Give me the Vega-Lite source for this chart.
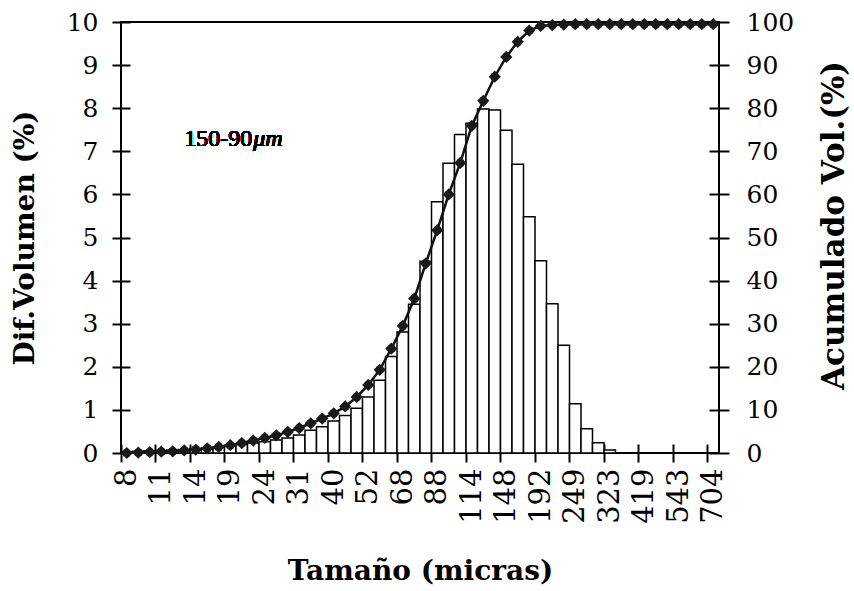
{
  "$schema": "https://vega.github.io/schema/vega-lite/v6.json",
  "width": 598,
  "height": 431,
  "autosize": {"type": "none"},
  "padding": {"left": 121, "top": 22, "right": 135, "bottom": 138},
  "background": "white",
  "config": {
    "font": "DejaVu Serif",
    "view": {"stroke": "black", "strokeWidth": 2},
    "axis": {
      "labelFont": "DejaVu Serif",
      "labelFontSize": 25,
      "labelColor": "black",
      "titleFont": "DejaVu Serif",
      "titleFontSize": 28,
      "titleFontWeight": "bold",
      "titleColor": "black",
      "domain": false,
      "tickColor": "black",
      "tickWidth": 2,
      "grid": false,
      "zindex": 1
    }
  },
  "data": {
    "values": [
      {"size": "8", "dif": 0.03, "acum": 0},
      {"size": "9", "dif": 0.04, "acum": 0.1},
      {"size": "10", "dif": 0.05, "acum": 0.2},
      {"size": "11", "dif": 0.06, "acum": 0.3},
      {"size": "12", "dif": 0.07, "acum": 0.4},
      {"size": "13", "dif": 0.08, "acum": 0.6},
      {"size": "14", "dif": 0.1, "acum": 0.8},
      {"size": "16", "dif": 0.12, "acum": 1.1},
      {"size": "17", "dif": 0.14, "acum": 1.4},
      {"size": "19", "dif": 0.17, "acum": 1.8},
      {"size": "21", "dif": 0.2, "acum": 2.3},
      {"size": "22", "dif": 0.23, "acum": 2.9},
      {"size": "24", "dif": 0.26, "acum": 3.5},
      {"size": "26", "dif": 0.3, "acum": 4.1},
      {"size": "29", "dif": 0.35, "acum": 4.9},
      {"size": "31", "dif": 0.42, "acum": 5.8},
      {"size": "34", "dif": 0.53, "acum": 6.9},
      {"size": "37", "dif": 0.61, "acum": 8.0},
      {"size": "40", "dif": 0.74, "acum": 9.2},
      {"size": "44", "dif": 0.87, "acum": 10.8},
      {"size": "48", "dif": 1.04, "acum": 13.0},
      {"size": "52", "dif": 1.3, "acum": 15.8},
      {"size": "57", "dif": 1.69, "acum": 19.3},
      {"size": "62", "dif": 2.24, "acum": 24.2},
      {"size": "68", "dif": 2.81, "acum": 29.5},
      {"size": "74", "dif": 3.45, "acum": 35.8},
      {"size": "81", "dif": 4.45, "acum": 44.0},
      {"size": "88", "dif": 5.83, "acum": 51.7},
      {"size": "96", "dif": 6.72, "acum": 60.0},
      {"size": "105", "dif": 7.39, "acum": 67.3},
      {"size": "114", "dif": 7.65, "acum": 75.9},
      {"size": "125", "dif": 7.98, "acum": 81.7},
      {"size": "136", "dif": 7.96, "acum": 87.3},
      {"size": "148", "dif": 7.49, "acum": 91.9},
      {"size": "162", "dif": 6.7, "acum": 95.4},
      {"size": "176", "dif": 5.48, "acum": 98.0},
      {"size": "192", "dif": 4.46, "acum": 99.1},
      {"size": "209", "dif": 3.46, "acum": 99.3},
      {"size": "228", "dif": 2.5, "acum": 99.4},
      {"size": "249", "dif": 1.14, "acum": 99.5},
      {"size": "271", "dif": 0.56, "acum": 99.5},
      {"size": "296", "dif": 0.24, "acum": 99.5},
      {"size": "323", "dif": 0.07, "acum": 99.5},
      {"size": "352", "dif": 0, "acum": 99.5},
      {"size": "384", "dif": 0, "acum": 99.5},
      {"size": "419", "dif": 0, "acum": 99.5},
      {"size": "456", "dif": 0, "acum": 99.5},
      {"size": "498", "dif": 0, "acum": 99.5},
      {"size": "543", "dif": 0, "acum": 99.5},
      {"size": "592", "dif": 0, "acum": 99.5},
      {"size": "645", "dif": 0, "acum": 99.5},
      {"size": "704", "dif": 0, "acum": 99.5}
    ]
  },
  "encoding": {
    "x": {
      "field": "size",
      "type": "ordinal",
      "sort": null,
      "scale": {
        "domain": ["8","9","10","11","12","13","14","16","17","19","21","22","24","26","29","31","34","37","40","44","48","52","57","62","68","74","81","88","96","105","114","125","136","148","162","176","192","209","228","249","271","296","323","352","384","419","456","498","543","592","645","704"],
        "paddingInner": 0,
        "paddingOuter": 0
      }
    }
  },
  "layer": [
    {
      "mark": {"type": "bar", "fill": "white", "stroke": "black", "strokeWidth": 1.5},
      "encoding": {
        "x": {
          "field": "size", "type": "ordinal", "sort": null,
          "axis": {
            "orient": "bottom",
            "title": "Tamaño (micras)",
            "values": ["8","11","14","19","24","31","40","52","68","88","114","148","192","249","323","419","543","704"],
            "bandPosition": 0,
            "labelAngle": -90,
            "labelFontSize": 29,
            "offset": -9,
            "tickSize": 18,
            "labelPadding": 6,
            "titlePadding": 34
          }
        },
        "y": {
          "field": "dif", "type": "quantitative",
          "scale": {"domain": [0, 10], "nice": false},
          "axis": {
            "orient": "left",
            "title": "Dif.Volumen (%)",
            "values": [0,1,2,3,4,5,6,7,8,9,10],
            "offset": -9,
            "tickSize": 18,
            "labelPadding": 14,
            "titlePadding": 27
          }
        }
      }
    },
    {
      "mark": {"type": "line", "color": "#111111", "strokeWidth": 2.5},
      "encoding": {
        "x": {"field": "size", "type": "ordinal", "sort": null},
        "y": {
          "field": "acum", "type": "quantitative",
          "scale": {"domain": [0, 100], "nice": false},
          "axis": {
            "orient": "right",
            "title": "Acumulado Vol.(%)",
            "values": [0,10,20,30,40,50,60,70,80,90,100],
            "offset": -10,
            "tickSize": 20,
            "labelPadding": 17,
            "titleFontSize": 31,
            "titleAngle": -90,
            "titleBaseline": "top",
            "titlePadding": 26,
            "titleY": 203
          }
        }
      }
    },
    {
      "mark": {"type": "point", "shape": "diamond", "filled": true, "size": 150, "color": "#1a1a1a", "opacity": 1},
      "encoding": {
        "x": {"field": "size", "type": "ordinal", "sort": null},
        "y": {
          "field": "acum", "type": "quantitative",
          "scale": {"domain": [0, 100], "nice": false},
          "axis": null
        }
      }
    },
    {
      "mark": {"type": "point", "shape": "square", "filled": true, "size": 45, "color": "#1a1a1a", "opacity": 1},
      "encoding": {
        "x": {"field": "size", "type": "ordinal", "sort": null},
        "y": {
          "field": "acum", "type": "quantitative",
          "scale": {"domain": [0, 100], "nice": false},
          "axis": null
        }
      }
    },
    {
      "mark": {"type": "text", "align": "left", "baseline": "alphabetic", "font": "Liberation Serif", "fontSize": 24, "fontWeight": "normal", "color": "black"},
      "encoding": {
        "x": {"datum": "13", "type": "ordinal"},
        "y": {"datum": 7.12, "type": "quantitative", "scale": {"domain": [0, 10], "nice": false}, "axis": null},
        "text": {"value": "150-90"}
      }
    },
    {
      "mark": {"type": "text", "align": "left", "baseline": "alphabetic", "font": "Liberation Serif", "fontSize": 24, "fontStyle": "italic", "fontWeight": "normal", "color": "black"},
      "encoding": {
        "x": {"datum": "22", "type": "ordinal"},
        "y": {"datum": 7.12, "type": "quantitative", "scale": {"domain": [0, 10], "nice": false}, "axis": null},
        "text": {"value": "\u00a0μm"}
      }
    }
  ],
  "resolve": {"scale": {"y": "independent"}}
}
